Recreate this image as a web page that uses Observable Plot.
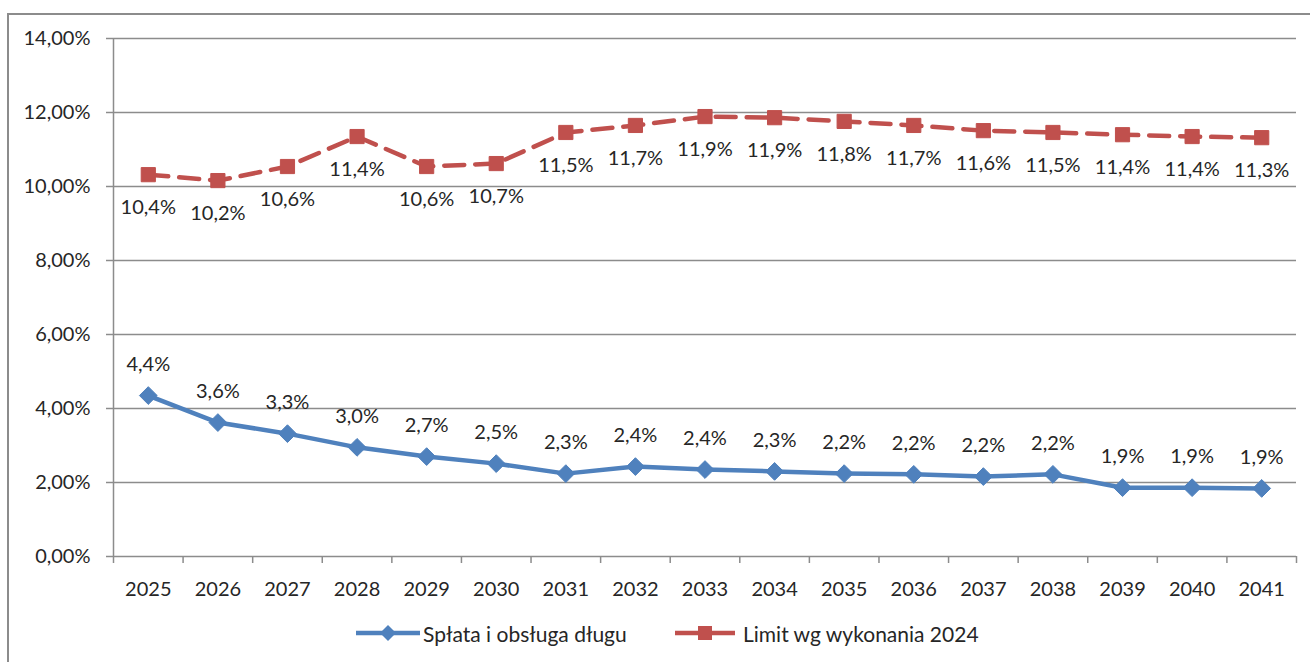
<!DOCTYPE html>
<html>
<head>
<meta charset="utf-8">
<script src="https://cdn.jsdelivr.net/npm/d3@7"></script>
<script src="https://cdn.jsdelivr.net/npm/@observablehq/plot@0.6"></script>
<style>
  html, body { margin: 0; padding: 0; background: #fff; }
  body { width: 1310px; height: 662px; overflow: hidden; position: relative; font-family: Lato, "Noto Sans", sans-serif; }
  #frame { position: absolute; left: 7px; top: 13px; width: 1320px; height: 700px; border-left: 2px solid #8c8c8c; border-top: 2px solid #8c8c8c; box-sizing: border-box; pointer-events: none; }
  #chart { position: absolute; left: 0; top: 0; }
  #legend { position: absolute; top: 621px; left: 0; width: 1310px; font-size: 21px; color: #262626; }
  .item { position: absolute; top: 0; display: flex; align-items: center; height: 24px; }
  .item svg { margin-right: 3px; }
</style>
</head>
<body>
<div id="chart"></div>
<div id="frame"></div>
<div id="legend"></div>
<script>
const years = [2025, 2026, 2027, 2028, 2029, 2030, 2031, 2032, 2033, 2034, 2035, 2036, 2037, 2038, 2039, 2040, 2041];
const splata = [4.35, 3.62, 3.32, 2.95, 2.70, 2.51, 2.24, 2.43, 2.35, 2.30, 2.24, 2.22, 2.16, 2.22, 1.86, 1.86, 1.84];
const limit = [10.32, 10.16, 10.54, 11.35, 10.54, 10.62, 11.46, 11.65, 11.89, 11.86, 11.76, 11.65, 11.51, 11.46, 11.40, 11.35, 11.32];
const splataLabels = ["4,4%", "3,6%", "3,3%", "3,0%", "2,7%", "2,5%", "2,3%", "2,4%", "2,4%", "2,3%", "2,2%", "2,2%", "2,2%", "2,2%", "1,9%", "1,9%", "1,9%"];
const limitLabels = ["10,4%", "10,2%", "10,6%", "11,4%", "10,6%", "10,7%", "11,5%", "11,7%", "11,9%", "11,9%", "11,8%", "11,7%", "11,6%", "11,5%", "11,4%", "11,4%", "11,3%"];
const yTicks = [0, 2, 4, 6, 8, 10, 12, 14];
const seriesNames = ["Spłata i obsługa długu", "Limit wg wykonania 2024"];
const colors = ["#4f81bd", "#c0504d"];

const dataS = years.map((y, i) => ({year: y, value: splata[i], label: splataLabels[i]}));
const dataL = years.map((y, i) => ({year: y, value: limit[i], label: limitLabels[i]}));
const bounds = [years[0] - 0.5, ...years.map(y => y + 0.5)];

const textColor = "#262626";
const gridColor = "#8c8c8c";
const fs = 20;

const chart = Plot.plot({
  width: 1310,
  height: 600,
  marginTop: 38,
  marginBottom: 44,
  marginLeft: 113,
  marginRight: 14,
  style: {fontFamily: "Lato, 'Noto Sans', sans-serif", fontSize: fs + "px", color: textColor, background: "transparent", overflow: "visible"},
  x: {domain: [years[0] - 0.5, years[years.length - 1] + 0.5], axis: null},
  y: {domain: [0, 14], axis: null},
  marks: [
    Plot.gridY(yTicks, {stroke: gridColor, strokeOpacity: 1, strokeWidth: 1.5}),
    Plot.axisY(yTicks, {label: null, tickSize: 7, tickPadding: 16, stroke: gridColor, strokeWidth: 1.5, tickFormat: d => d.toFixed(2).replace(".", ",") + "%", fill: textColor, fontSize: fs}),
    Plot.ruleX([bounds[0]], {stroke: gridColor, strokeWidth: 1.5}),
    Plot.axisX(bounds, {label: null, tickSize: 7, tickFormat: () => "", stroke: gridColor, strokeWidth: 1.5}),
    Plot.axisX(years, {label: null, tickSize: 0, tickPadding: 25, tickFormat: d => String(d), fill: textColor, fontSize: fs}),
    Plot.line(dataL, {x: "year", y: "value", stroke: colors[1], strokeWidth: 4.5, strokeDasharray: "20,11"}),
    Plot.dot(dataL, {x: "year", y: "value", symbol: "square", r: 8, fill: colors[1], stroke: colors[1], strokeWidth: 1}),
    Plot.line(dataS, {x: "year", y: "value", stroke: colors[0], strokeWidth: 4.5}),
    Plot.dot(dataS, {x: "year", y: "value", symbol: "diamond2", r: 8, fill: colors[0], stroke: colors[0], strokeWidth: 1}),
    Plot.text(dataL, {x: "year", y: "value", text: "label", dy: 33, fill: textColor, fontSize: fs}),
    Plot.text(dataS, {x: "year", y: "value", text: "label", dy: -31, fill: textColor, fontSize: fs})
  ]
});
document.getElementById("chart").appendChild(chart);

const legend = document.getElementById("legend");
const lefts = [356, 675];
seriesNames.forEach((name, i) => {
  const item = document.createElement("div");
  item.className = "item";
  item.style.left = lefts[i] + "px";
  const sym = i === 0
    ? `<polygon points="32,4 40,12 32,20 24,12" fill="${colors[0]}"/>`
    : `<rect x="23" y="5" width="14" height="14" fill="${colors[1]}"/>`;
  const w = i === 0 ? 64 : 60;
  item.innerHTML = `<svg width="${w}" height="24"><line x1="0" y1="12" x2="${w}" y2="12" stroke="${colors[i]}" stroke-width="4.5"/>${sym}</svg><span>${name}</span>`;
  item.querySelector("svg").style.marginRight = (i === 0 ? 3 : 8) + "px";
  legend.appendChild(item);
});
</script>
</body>
</html>
